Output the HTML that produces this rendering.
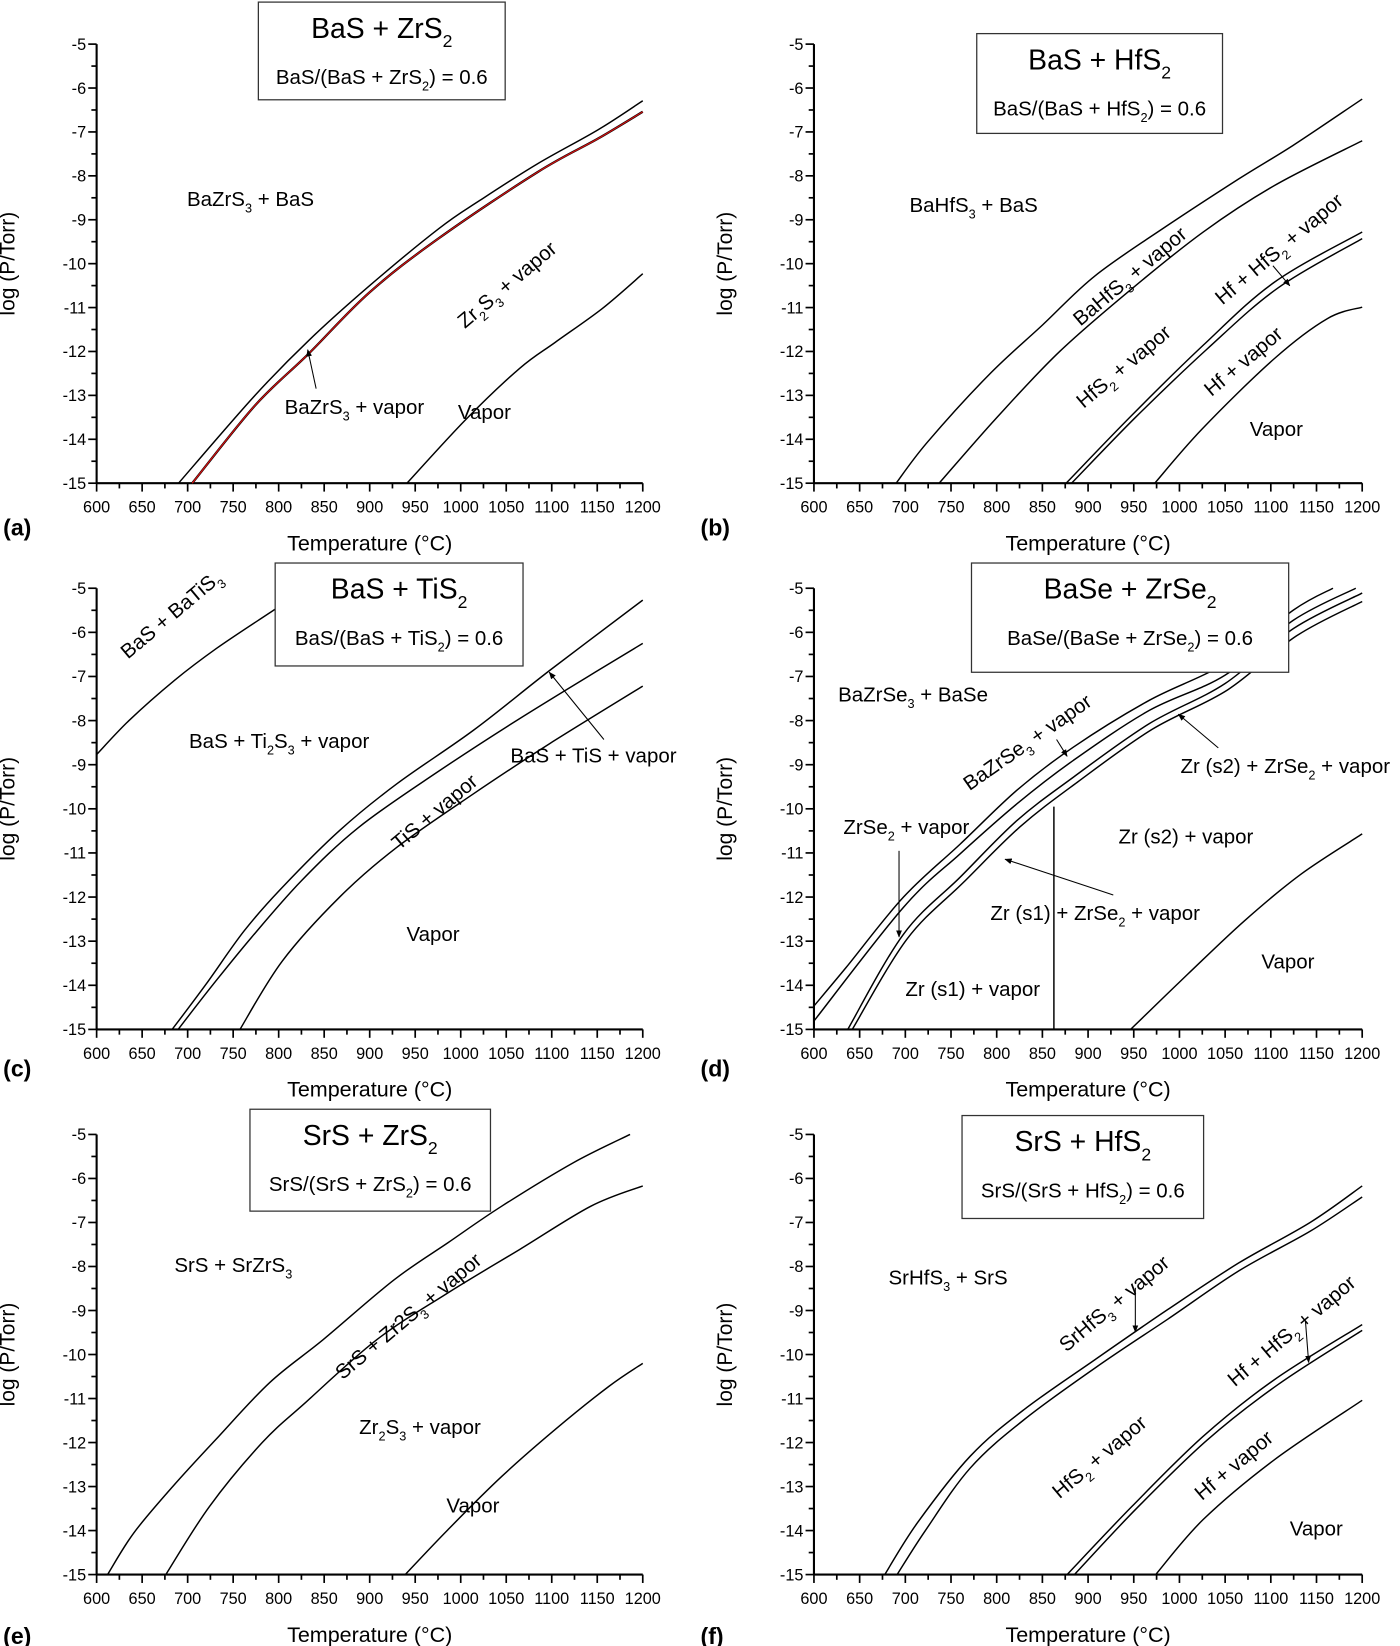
<!DOCTYPE html>
<html><head><meta charset="utf-8">
<style>
html,body{margin:0;padding:0;background:#fff;}
svg{display:block;}
text{font-family:"Liberation Sans",Arial,sans-serif;fill:#000;}
</style></head>
<body>
<svg id="fig" xmlns="http://www.w3.org/2000/svg" width="1400" height="1646" viewBox="0 0 1333 1567" preserveAspectRatio="none">
<defs>
<marker id="ah" viewBox="0 0 10 10" refX="9" refY="5" markerWidth="7" markerHeight="7" orient="auto"><path d="M0,1 L10,5 L0,9 z" fill="#000"/></marker>
</defs>
</svg>
<script>
// ---- data (temperature °C, log P/Torr) ----
const xTicks = [600,650,700,750,800,850,900,950,1000,1050,1100,1150,1200];
const yTicks = [-5,-6,-7,-8,-9,-10,-11,-12,-13,-14,-15];

const aUpper = [[690,-15],[774,-13],[833,-11.75],[900,-10.5],[976,-9.2],[1021,-8.56],[1084,-7.73],[1151,-6.95],[1200,-6.29]];
const aLower = [[705,-15],[774,-13.23],[833,-12.05],[900,-10.65],[976,-9.42],[1084,-7.92],[1151,-7.15],[1200,-6.54]];
const aVapor = [[941,-15],[1006,-13.54],[1065,-12.38],[1104,-11.79],[1155,-11.03],[1200,-10.23]];

const b1 = [[690,-15],[724,-14.07],[791,-12.54],[850,-11.4],[908,-10.27],[987,-9.13],[1065,-8.07],[1124,-7.31],[1200,-6.25]];
const b2 = [[737,-15],[799,-13.53],[869,-12.0],[948,-10.57],[1026,-9.28],[1104,-8.22],[1200,-7.2]];
const b3 = [[876,-15],[948,-13.45],[1026,-11.86],[1104,-10.42],[1200,-9.28]];
const b4 = [[882,-15],[952,-13.5],[1030,-11.95],[1108,-10.55],[1200,-9.43]];
const b5 = [[973,-15],[1025,-13.76],[1104,-12.16],[1162,-11.25],[1200,-10.99]];

const c0 = [[600,-8.77],[636,-7.99],[686,-7.08],[732,-6.36],[795,-5.49],[830,-5.0]];
const c1 = [[683,-15],[720,-13.98],[762,-12.77],[804,-11.78],[867,-10.49],[930,-9.43],[1014,-8.22],[1098,-6.86],[1200,-5.27]];
const c2 = [[689.5,-15],[728,-13.98],[770,-12.92],[825,-11.63],[888,-10.42],[972,-9.2],[1056,-8.07],[1140,-7.0],[1200,-6.25]];
const c3 = [[757.5,-15],[804,-13.45],[867,-12.0],[930,-10.87],[1014,-9.66],[1098,-8.52],[1200,-7.22]];

const d1 = [[600,-14.47],[635,-13.6],[698,-12.0],[760,-10.8],[822,-9.58],[884,-8.6],[967,-7.54],[1050,-6.7],[1125,-5.49],[1168,-5.0]];
const d2 = [[600,-14.81],[698,-12.23],[760,-11.02],[822,-9.89],[884,-8.9],[967,-7.77],[1050,-6.97],[1125,-5.72],[1193,-5.0]];
const d3 = [[637,-15],[698,-12.84],[760,-11.55],[822,-10.27],[884,-9.28],[967,-8.07],[1050,-7.16],[1125,-5.91],[1200,-5.11]];
const d4 = [[642,-15],[702,-12.95],[764,-11.66],[826,-10.4],[888,-9.4],[970,-8.2],[1053,-7.3],[1128,-6.08],[1200,-5.3]];
const dTransT = [862.6];
const dTransP = [-9.95,-15];
const d5 = [[946.5,-15],[1009,-13.75],[1071,-12.54],[1133,-11.48],[1200,-10.57]];

const e1 = [[612,-15],[641,-14.05],[684,-12.99],[731,-11.93],[790,-10.64],[849,-9.66],[927,-8.3],[986,-7.46],[1045,-6.63],[1124,-5.64],[1186,-5.0]];
const e2 = [[676,-15],[724,-13.45],[782,-12.0],[829,-11.1],[908,-9.66],[986,-8.6],[1065,-7.61],[1143,-6.63],[1200,-6.17]];
const e3 = [[939,-15],[986,-13.98],[1045,-12.77],[1104,-11.7],[1163,-10.72],[1200,-10.2]];

const f1 = [[677.5,-15],[713,-13.83],[771,-12.31],[830,-11.25],[908,-10.11],[987,-8.98],[1065,-7.92],[1143,-7.0],[1200,-6.17]];
const f2 = [[691,-15],[722,-14.0],[771,-12.58],[830,-11.48],[908,-10.3],[987,-9.2],[1065,-8.1],[1143,-7.2],[1200,-6.42]];
const f3 = [[877,-15],[948,-13.45],[1026,-11.86],[1104,-10.57],[1200,-9.32]];
const f4 = [[885,-15],[952,-13.52],[1030,-11.95],[1108,-10.68],[1200,-9.45]];
const f5 = [[974,-15],[1026,-13.75],[1104,-12.39],[1200,-11.04]];

const NS = "http://www.w3.org/2000/svg";
const svg = document.getElementById('fig');
const LBL = 19.5;
function el(tag, attrs, parent){
  const e = document.createElementNS(NS, tag);
  for (const k in attrs) e.setAttribute(k, attrs[k]);
  (parent||svg).appendChild(e);
  return e;
}
function rich(parent, x, y, parts, size, anchor, rot){
  const t = el('text', {x:x, y:y, 'font-size':size, 'text-anchor':anchor||'start'}, parent);
  if (rot) t.setAttribute('transform', 'rotate('+rot+' '+x+' '+y+')');
  let sub=false;
  parts.forEach(p=>{
    const ts = el('tspan', {}, t);
    if (p[1] && !sub){ ts.setAttribute('dy', size*0.32); ts.setAttribute('font-size', size*0.62); sub=true; }
    else if (!p[1] && sub){ ts.setAttribute('dy', -size*0.32); sub=false; }
    ts.textContent = p[0];
  });
  return t;
}

function makePanel(name, x0, x1, y0, y1){
  const g = el('g', {});
  
  
  const sx = T => x0 + (T-600)/600*(x1-x0);
  const sy = v => y0 + (-5 - v)/10*(y1-y0);
  const ax = el('g', {}, g);
  
  
  el('line', {x1:x0, y1:y0, x2:x0, y2:y1, stroke:'#000','stroke-width':2}, ax);
  el('line', {x1:x0, y1:y1, x2:x1, y2:y1, stroke:'#000','stroke-width':2}, ax);
  for (let T=600; T<=1200; T+=25){
    const major = (T%50===0);
    el('line', {x1:sx(T), y1:y1, x2:sx(T), y2:y1+(major?8:5), stroke:'#000','stroke-width':1.6}, ax);
  }
  xTicks.forEach(T=>{
    const t = el('text', {x:sx(T), y:y1+28, 'font-size':15.5, 'text-anchor':'middle'}, ax);
    
    
    t.textContent = T;
  });
  for (let v=-5; v>=-15; v-=0.5){
    const major = Number.isInteger(v);
    el('line', {x1:x0, y1:sy(v), x2:x0-(major?8:5), y2:sy(v), stroke:'#000','stroke-width':1.6}, ax);
  }
  yTicks.forEach(v=>{
    const t = el('text', {x:x0-10, y:sy(v)+5.5, 'font-size':15.5, 'text-anchor':'end'}, ax);
    
    
    t.textContent = v;
  });
  const xt = el('text', {x:(x0+x1)/2, y:y1+64, 'font-size':20.5, 'text-anchor':'middle'}, ax);
  
  
  xt.textContent = 'Temperature (\u00B0C)';
  const yx = x0-78, yy = (y0+y1)/2;
  const yt = el('text', {x:yx, y:yy, 'font-size':20, 'text-anchor':'middle', transform:'rotate(-90 '+yx+' '+yy+')'}, ax);
  
  
  yt.textContent = 'log (P/Torr)';
  return {g, sx, sy};
}
function curve(P, pts, name, color, w){
  const q = pts.map(p=>[P.sx(p[0]), P.sy(p[1])]);
  let d = 'M'+q[0][0].toFixed(1)+','+q[0][1].toFixed(1);
  for (let i=0;i<q.length-1;i++){
    const p0=q[Math.max(0,i-1)], p1=q[i], p2=q[i+1], p3=q[Math.min(q.length-1,i+2)];
    const c1=[p1[0]+(p2[0]-p0[0])/6, p1[1]+(p2[1]-p0[1])/6];
    const c2=[p2[0]-(p3[0]-p1[0])/6, p2[1]-(p3[1]-p1[1])/6];
    d += ' C'+c1[0].toFixed(1)+','+c1[1].toFixed(1)+' '+c2[0].toFixed(1)+','+c2[1].toFixed(1)+' '+p2[0].toFixed(1)+','+p2[1].toFixed(1);
  }
  const path = el('path', {d:d, fill:'none', stroke:color||'#000', 'stroke-width':w||1.4, 'stroke-linejoin':'round'}, P.g);
  
  
  return path;
}
function legendBox(P, name, x, y, w, h, title, sub){
  const g = el('g', {}, P.g);
  
  
  el('rect', {x:x, y:y, width:w, height:h, fill:'#fff', stroke:'#333', 'stroke-width':1.2}, g);
  rich(g, x+w/2, y+34, title, 27, 'middle');
  rich(g, x+w/2, y+78, sub, 19.5, 'middle');
}
function label(P, name, x, y, parts, rot, size){
  const t = rich(P.g, x, y, parts, size||LBL, rot?'middle':'start', rot);
  
  
}
function arrow(P, name, xa, ya, xb, yb){
  const l = el('line', {x1:xa, y1:ya, x2:xb, y2:yb, stroke:'#000', 'stroke-width':1, 'marker-end':'url(#ah)'}, P.g);
  
  
}
function letter(x, y, s){
  const t = el('text', {x:x, y:y, 'font-size':22, 'font-weight':'bold'});
  
  
  t.textContent = s;
}

// Panel (a)
const A = makePanel('panel-a-bas-zrs2', 92, 612, 42, 460);
curve(A, aUpper, 'bazrs3-bas-boundary');
curve(A, aLower, 'bazrs3-vapor-boundary', '#000', 2.2);
curve(A, aLower, 'bazrs3-vapor-boundary-red', '#d01010', 1.2);
curve(A, aVapor, 'zr2s3-vapor-boundary');
legendBox(A, 'legend-box-a', 246, 2, 235, 93, [['BaS + ZrS',0],['2',1]], [['BaS/(BaS + ZrS',0],['2',1],[') = 0.6',0]]);
label(A, 'region-label', 178, 196, [['BaZrS',0],['3',1],[' + BaS',0]]);
label(A, 'region-label', 487, 276, [['Zr',0],['2',1],['S',0],['3',1],[' + vapor',0]], -40);
label(A, 'region-label', 271, 394, [['BaZrS',0],['3',1],[' + vapor',0]]);
label(A, 'region-label', 436, 399, [['Vapor',0]]);
arrow(A, 'pointer-arrow', 301, 370, 293, 333);
letter(3, 510, '(a)');

// Panel (b)
const B = makePanel('panel-b-bas-hfs2', 775, 1297, 42, 460);
curve(B, b1, 'bahfs3-bas-boundary');
curve(B, b2, 'bahfs3-vapor-boundary');
curve(B, b3, 'hfs2-vapor-boundary');
curve(B, b4, 'hf-hfs2-boundary');
curve(B, b5, 'hf-vapor-boundary');
legendBox(B, 'legend-box-b', 930, 32, 234, 95, [['BaS + HfS',0],['2',1]], [['BaS/(BaS + HfS',0],['2',1],[') = 0.6',0]]);
label(B, 'region-label', 866, 202, [['BaHfS',0],['3',1],[' + BaS',0]]);
label(B, 'region-label', 1080, 268, [['BaHfS',0],['3',1],[' + vapor',0]], -40);
label(B, 'region-label', 1074, 354, [['HfS',0],['2',1],[' + vapor',0]], -40);
label(B, 'region-label', 1222, 242, [['Hf + HfS',0],['2',1],[' + vapor',0]], -40);
label(B, 'region-label', 1188, 349, [['Hf + vapor',0]], -40);
label(B, 'region-label', 1190, 415, [['Vapor',0]]);
arrow(B, 'pointer-arrow', 1212, 253, 1228, 272);
letter(667, 510, '(b)');

// Panel (c)
const C = makePanel('panel-c-bas-tis2', 92, 612, 560, 980);
curve(C, c0, 'bas-batis3-boundary');
curve(C, c1, 'ti2s3-vapor-boundary');
curve(C, c2, 'tis-vapor-boundary');
curve(C, c3, 'vapor-boundary');
legendBox(C, 'legend-box-c', 262, 536, 236, 98, [['BaS + TiS',0],['2',1]], [['BaS/(BaS + TiS',0],['2',1],[') = 0.6',0]]);
label(C, 'region-label', 167, 590, [['BaS + BaTiS',0],['3',1]], -40);
label(C, 'region-label', 180, 712, [['BaS + Ti',0],['2',1],['S',0],['3',1],[' + vapor',0]]);
label(C, 'region-label', 486, 726, [['BaS + TiS + vapor',0]]);
label(C, 'region-label', 418, 778, [['TiS + vapor',0]], -40);
label(C, 'region-label', 387, 896, [['Vapor',0]]);
arrow(C, 'pointer-arrow', 575, 704, 523, 640);
letter(3, 1025, '(c)');

// Panel (d)
const D = makePanel('panel-d-base-zrse2', 775, 1297, 560, 980);
curve(D, d1, 'bazrse3-base-boundary');
curve(D, d2, 'bazrse3-vapor-boundary');
curve(D, d3, 'zrse2-vapor-boundary');
curve(D, d4, 'zr-zrse2-boundary');
curve(D, d5, 'vapor-boundary');
dTransT.forEach(T=>{
  const l = el('line', {x1:D.sx(T), y1:D.sy(dTransP[0]), x2:D.sx(T), y2:D.sy(dTransP[1]), stroke:'#000','stroke-width':1.4}, D.g);
  
  
});
legendBox(D, 'legend-box-d', 925, 536, 302, 104, [['BaSe + ZrSe',0],['2',1]], [['BaSe/(BaSe + ZrSe',0],['2',1],[') = 0.6',0]]);
label(D, 'region-label', 798, 668, [['BaZrSe',0],['3',1],[' + BaSe',0]]);
label(D, 'region-label', 982, 712, [['BaZrSe',0],['3',1],[' + vapor',0]], -35);
label(D, 'region-label', 803, 794, [['ZrSe',0],['2',1],[' + vapor',0]]);
label(D, 'region-label', 1124, 736, [['Zr (s2) + ZrSe',0],['2',1],[' + vapor',0]]);
label(D, 'region-label', 1065, 803, [['Zr (s2) + vapor',0]]);
label(D, 'region-label', 943, 876, [['Zr (s1) + ZrSe',0],['2',1],[' + vapor',0]]);
label(D, 'region-label', 862, 948, [['Zr (s1) + vapor',0]]);
label(D, 'region-label', 1201, 922, [['Vapor',0]]);
arrow(D, 'pointer-arrow', 856, 810, 856, 892);
arrow(D, 'pointer-arrow', 1006, 704, 1016, 720);
arrow(D, 'pointer-arrow', 1160, 712, 1122, 680);
arrow(D, 'pointer-arrow', 1060, 852, 957, 818);
letter(667, 1025, '(d)');

// Panel (e)
const E = makePanel('panel-e-srs-zrs2', 92, 612, 1080, 1499);
curve(E, e1, 'srs-srzrs3-boundary');
curve(E, e2, 'zr2s3-boundary');
curve(E, e3, 'vapor-boundary');
legendBox(E, 'legend-box-e', 238, 1056, 229, 97, [['SrS + ZrS',0],['2',1]], [['SrS/(SrS + ZrS',0],['2',1],[') = 0.6',0]]);
label(E, 'region-label', 166, 1211, [['SrS + SrZrS',0],['3',1]]);
label(E, 'region-label', 393, 1258, [['SrS + Zr2S',0],['3',1],[' + vapor',0]], -40);
label(E, 'region-label', 342, 1365, [['Zr',0],['2',1],['S',0],['3',1],[' + vapor',0]]);
label(E, 'region-label', 425, 1440, [['Vapor',0]]);
letter(3, 1565, '(e)');

// Panel (f)
const F = makePanel('panel-f-srs-hfs2', 775, 1297, 1080, 1499);
curve(F, f1, 'srhfs3-srs-boundary');
curve(F, f2, 'srhfs3-vapor-boundary');
curve(F, f3, 'hfs2-vapor-boundary');
curve(F, f4, 'hf-hfs2-boundary');
curve(F, f5, 'hf-vapor-boundary');
legendBox(F, 'legend-box-f', 916, 1062, 230, 98, [['SrS + HfS',0],['2',1]], [['SrS/(SrS + HfS',0],['2',1],[') = 0.6',0]]);
label(F, 'region-label', 846, 1223, [['SrHfS',0],['3',1],[' + SrS',0]]);
label(F, 'region-label', 1065, 1246, [['SrHfS',0],['3',1],[' + vapor',0]], -40);
label(F, 'region-label', 1234, 1272, [['Hf + HfS',0],['2',1],[' + vapor',0]], -40);
label(F, 'region-label', 1051, 1392, [['HfS',0],['2',1],[' + vapor',0]], -40);
label(F, 'region-label', 1179, 1400, [['Hf + vapor',0]], -40);
label(F, 'region-label', 1228, 1462, [['Vapor',0]]);
arrow(F, 'pointer-arrow', 1081, 1226, 1081, 1268);
arrow(F, 'pointer-arrow', 1243, 1258, 1246, 1297);
letter(667, 1565, '(f)');
</script>
</body></html>
